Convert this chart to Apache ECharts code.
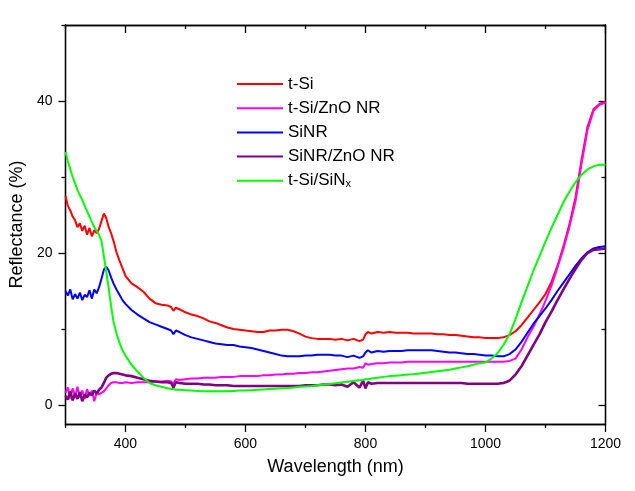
<!DOCTYPE html>
<html>
<head>
<meta charset="utf-8">
<script src="https://cdn.jsdelivr.net/npm/echarts@6/dist/echarts.min.js"></script>
<style>
html,body{margin:0;padding:0;background:#fff;}
#chart{width:635px;height:491px;}
</style>
</head>
<body>
<div id="chart"></div>
<script>
// Wavelength (nm)
var wavelength = [
  300,304,308,312,316,320,324,328,332,336,340,344,348,352,356,360,364,368,372,376,380,
  385,390,395,400,410,420,430,440,450,460,470,
  476,480,484,
  490,500,510,520,530,540,550,560,570,580,590,600,610,620,630,640,650,660,670,680,690,700,710,720,730,740,750,760,770,780,790,
  796,800,804,
  810,820,830,840,850,860,870,880,890,900,910,920,930,940,950,960,970,980,990,1000,1010,1020,1030,1040,1050,1060,1070,1080,1090,1100,1110,1120,1130,1140,1150,1160,1170,1180,1190,1200
];
var seriesNames = ['t-Si', 't-Si/ZnO NR', 'SiNR', 'SiNR/ZnO NR', 't-Si/SiNx'];
var tSi = [
  27.5,26.2,25.6,24.8,24.3,23.4,23.9,22.9,23.6,22.4,23.3,22.2,23.0,22.6,23.2,24.2,25.2,24.6,23.4,22.6,21.6,
  20.1,19.0,18.0,17.0,16.0,15.5,14.9,14.0,13.4,13.2,13.1,
  12.9,12.4,12.8,
  12.6,12.2,11.9,11.7,11.4,11.0,10.8,10.5,10.2,10.0,9.9,9.8,9.7,9.6,9.6,9.8,9.8,9.9,9.9,9.7,9.4,9.0,8.8,8.7,8.7,8.7,8.6,8.7,8.5,8.7,8.4,
  8.6,9.3,9.6,
  9.4,9.6,9.5,9.6,9.5,9.5,9.5,9.4,9.4,9.4,9.4,9.3,9.3,9.2,9.2,9.1,9.0,8.9,8.9,8.8,8.8,8.8,8.9,9.2,9.7,10.5,11.5,12.5,13.5,14.6,16.2,18.3,20.9,23.8,27.3,32.2,36.6,38.9,39.6,39.9
];
var tSiZnO = [
  1.6,2.3,0.9,2.2,1.1,2.4,1.0,1.9,0.8,2.1,1.2,1.9,0.5,1.6,1.4,1.6,1.8,2.2,2.6,2.9,3.0,
  3.0,2.9,2.9,3.0,2.9,3.0,3.0,3.0,3.1,3.1,3.2,
  3.1,2.8,3.4,
  3.3,3.4,3.5,3.5,3.6,3.6,3.6,3.7,3.7,3.7,3.8,3.8,3.8,3.8,3.9,3.9,4.0,4.0,4.1,4.1,4.2,4.2,4.3,4.3,4.4,4.5,4.6,4.7,4.8,4.8,5.0,
  4.9,5.5,5.3,
  5.4,5.5,5.5,5.6,5.6,5.6,5.7,5.7,5.7,5.7,5.7,5.7,5.7,5.7,5.7,5.7,5.7,5.7,5.7,5.7,5.7,5.7,5.7,5.8,6.1,7.3,8.9,10.3,11.9,13.7,15.7,18.1,20.6,23.5,26.8,31.7,36.2,38.7,39.5,39.8
];
var siNR = [
  15.0,14.4,15.2,13.9,14.6,14.0,14.8,13.8,14.5,14.2,15.1,14.0,15.2,14.7,15.5,16.6,17.8,18.2,17.7,16.8,16.0,
  15.2,14.5,13.8,13.3,12.5,11.9,11.4,10.9,10.6,10.3,10.0,
  9.8,9.3,9.8,
  9.6,9.2,8.9,8.7,8.5,8.3,8.1,8.0,7.9,7.9,7.7,7.6,7.5,7.3,7.1,6.9,6.7,6.5,6.4,6.4,6.4,6.5,6.5,6.6,6.6,6.6,6.5,6.5,6.3,6.5,6.2,
  6.4,6.9,7.2,
  6.9,7.1,7.0,7.1,7.1,7.1,7.2,7.2,7.2,7.2,7.2,7.1,7.0,6.9,6.9,6.8,6.7,6.7,6.6,6.5,6.5,6.4,6.4,6.7,7.3,8.3,9.5,10.7,11.7,12.7,13.8,15.0,16.1,17.2,18.3,19.3,20.1,20.6,20.8,20.9
];
var siNRZnO = [
  1.2,0.7,1.8,0.6,1.5,0.8,1.7,0.5,1.4,1.0,1.6,1.3,1.9,1.5,2.0,2.3,2.9,3.6,3.9,4.1,4.2,
  4.2,4.1,4.0,3.9,3.8,3.6,3.4,3.2,3.1,3.0,3.0,
  2.9,2.3,3.0,
  2.9,2.8,2.8,2.8,2.7,2.7,2.6,2.6,2.6,2.5,2.5,2.5,2.5,2.5,2.5,2.5,2.5,2.5,2.5,2.5,2.5,2.6,2.6,2.6,2.7,2.7,2.6,2.7,2.4,3.0,2.3,
  3.2,2.2,3.0,
  2.8,2.9,2.9,2.9,2.9,2.9,2.9,2.9,2.9,2.9,2.9,2.9,2.9,2.9,2.9,2.9,2.8,2.8,2.8,2.8,2.8,2.8,2.9,3.2,4.0,5.1,6.5,7.9,9.3,10.9,12.3,13.8,15.2,16.6,17.9,19.1,20.0,20.4,20.5,20.6
];
var tSiSiNx = [
  33.3,32.1,31.0,30.0,29.2,28.3,27.6,27.0,26.2,25.5,24.8,24.1,23.4,22.9,22.4,21.6,19.6,17.5,15.4,13.0,11.0,
  9.4,8.2,7.2,6.5,5.3,4.4,3.6,2.9,2.6,2.4,2.2,
  2.1,2.1,2.0,
  2.0,1.95,1.9,1.85,1.8,1.8,1.8,1.8,1.8,1.85,1.9,1.9,1.95,2.0,2.05,2.1,2.15,2.2,2.25,2.3,2.4,2.45,2.5,2.6,2.7,2.75,2.85,2.95,3.05,3.15,3.25,
  3.3,3.4,3.4,
  3.5,3.6,3.7,3.8,3.85,3.9,4.0,4.05,4.15,4.25,4.35,4.45,4.55,4.65,4.8,4.95,5.1,5.3,5.5,5.6,6.1,6.8,7.9,9.3,11.3,13.5,15.6,17.7,19.6,21.5,23.3,25.0,26.7,28.1,29.3,30.3,31.0,31.4,31.6,31.6
];
var seriesColors = ['#FF0000', '#FF00FF', '#0000FF', '#800080', '#00FF00'];
var seriesWidths = [2, 2, 2, 2.6, 2];
var xMajorTicks = [400, 600, 800, 1000, 1200];
var xMinorTicks = [300, 500, 700, 900, 1100];
var yMajorTicks = [0, 20, 40];
var yMinorTicks = [10, 30, 50];

var allValues = [tSi, tSiZnO, siNR, siNRZnO, tSiSiNx];
var FONT = 'Liberation Sans';

function pairs(vals) {
  return wavelength.map(function (w, i) { return [w, vals[i]]; });
}

var series = allValues.map(function (vals, k) {
  return {
    name: seriesNames[k],
    type: 'line',
    xAxisIndex: 0,
    yAxisIndex: 0,
    data: pairs(vals),
    showSymbol: false,
    symbol: 'none',
    animation: false,
    lineStyle: { color: seriesColors[k], width: seriesWidths[k] },
    itemStyle: { color: seriesColors[k] }
  };
});

var axisLineStyle = { color: '#000', width: 1.3 };
function plain(v) { return String(v); }

function xAx(pos, ticks, len, inside, labels) {
  return {
    type: 'value', position: pos, min: 300, max: 1200,
    axisLine: { show: true, onZero: false, lineStyle: axisLineStyle },
    axisTick: { show: true, inside: inside, length: len, customValues: ticks, lineStyle: { color: '#000', width: 1.3 } },
    axisLabel: labels ? { show: true, customValues: xMajorTicks, formatter: plain, color: '#000', fontFamily: FONT, fontSize: 14, margin: 13 } : { show: false },
    splitLine: { show: false }
  };
}
function yAx(pos, ticks, len, inside, labels) {
  return {
    type: 'value', position: pos, min: -2.5, max: 50,
    axisLine: { show: true, onZero: false, lineStyle: axisLineStyle },
    axisTick: { show: true, inside: inside, length: len, customValues: ticks, lineStyle: { color: '#000', width: 1.3 } },
    axisLabel: labels ? { show: true, customValues: yMajorTicks, formatter: plain, color: '#000', fontFamily: FONT, fontSize: 14, margin: 13 } : { show: false },
    splitLine: { show: false }
  };
}

var xAxes = [
  xAx('bottom', xMajorTicks, 8, false, true),
  xAx('bottom', xMinorTicks, 4, false, false),
  xAx('top', xMajorTicks, 8, true, false),
  xAx('top', xMinorTicks, 4, true, false)
];
xAxes[0].name = 'Wavelength (nm)';
xAxes[0].nameLocation = 'middle';
xAxes[0].nameGap = 34;
xAxes[0].nameTextStyle = { color: '#000', fontFamily: FONT, fontSize: 18 };

var yAxes = [
  yAx('left', yMajorTicks, 7, false, true),
  yAx('left', yMinorTicks, 4, false, false),
  yAx('right', yMajorTicks, 7, true, false),
  yAx('right', yMinorTicks, 4, true, false)
];
yAxes[0].name = 'Reflectance (%)';
yAxes[0].nameLocation = 'middle';
yAxes[0].nameGap = 39;
yAxes[0].nameTextStyle = { color: '#000', fontFamily: FONT, fontSize: 18 };

var option = {
  backgroundColor: '#fff',
  animation: false,
  grid: { left: 63.5, right: 29.5, top: 25, bottom: 67, containLabel: false },
  legend: {
    show: true,
    orient: 'vertical',
    left: 237,
    top: 75.5,
    padding: 0,
    icon: 'rect',
    itemWidth: 46,
    itemHeight: 2,
    itemGap: 7.2,
    data: seriesNames.map(function (n, k) {
      return { name: n, itemStyle: { color: seriesColors[k] } };
    }),
    formatter: function (name) {
      if (name === 't-Si/SiNx') return '{n|t-Si/SiN}{s|x}';
      return '{n|' + name + '}';
    },
    textStyle: {
      color: '#000', fontFamily: FONT, fontSize: 17,
      rich: {
        n: { fontFamily: FONT, fontSize: 17, color: '#000' },
        s: { fontFamily: FONT, fontSize: 11, color: '#000', lineHeight: 11, padding: [6, 0, 0, 0], verticalAlign: 'bottom' }
      }
    }
  },
  xAxis: xAxes,
  yAxis: yAxes,
  series: series
};

var chart = echarts.init(document.getElementById('chart'), null, { renderer: 'canvas' });
chart.setOption(option);
</script>
</body>
</html>
